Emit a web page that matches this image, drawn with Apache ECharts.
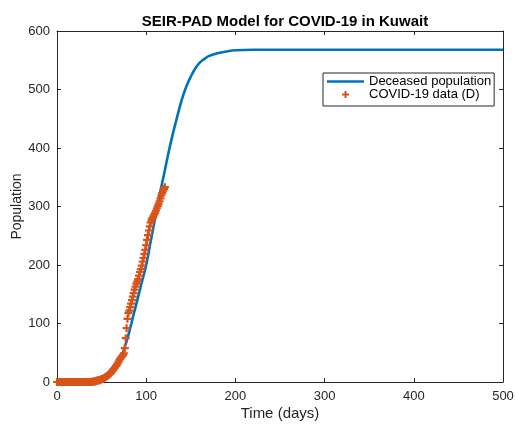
<!DOCTYPE html>
<html>
<head>
<meta charset="utf-8">
<script src="https://cdn.jsdelivr.net/npm/echarts@6/dist/echarts.min.js"></script>
<style>
html,body{margin:0;padding:0;background:#fff;}
#chart{width:516px;height:427px;}
</style>
</head>
<body>
<div id="chart"></div>
<script>
// Model curve (Deceased population)
const modelDays = [0, 20, 40, 50, 55, 60, 65, 70, 75, 80, 85, 90, 95, 100, 105, 110, 115, 120, 125, 130, 135, 140, 145, 150, 155, 160, 165, 170, 180, 190, 200, 220, 250, 300, 400, 500];
const modelVals = [0, 0, 1, 3, 6, 12, 22, 35, 55, 80, 110, 140, 170, 200, 240, 280, 320, 355, 392, 425, 455, 483, 505, 522, 536, 546, 552, 557, 562, 565, 567, 568, 568, 568, 568, 568];

// Observed daily deaths (COVID-19 data (D)), day 0 .. 121
const dataVals = [
  0,0,0,0,0,0,0,0,0,0,
  0,0,0,0,0,0,0,0,0,0,
  0,0,0,0,0,0,0,0,0,0,
  0,0,0,0,0,0,0,0,0,0,
  1,1,1,1,2,2,3,3,3,4,
  5,5,6,7,8,9,10,11,12,14,
  15,17,19,21,23,25,27,29,32,35,
  38,40,42,44,46,49,58,75,92,108,
  118,122,128,134,140,146,152,158,163,168,
  172,176,182,188,193,199,206,212,219,226,
  234,243,251,259,266,273,277,280,283,286,
  289,293,297,301,305,309,314,319,323,327,
  330,333
];

const xTicks = [0, 100, 200, 300, 400, 500];
const yTicks = [0, 100, 200, 300, 400, 500, 600];

const titleText = 'SEIR-PAD Model for COVID-19 in Kuwait';
const xLabel = 'Time (days)';
const yLabel = 'Population';
const seriesNames = ['Deceased population', 'COVID-19 data (D)'];

const modelData = modelDays.map((d, i) => [d, modelVals[i]]);
const obsData = dataVals.map((v, i) => [i, v]);

const plusPath = 'path://M-1.1,-4 H1.1 V-1.1 H4 V1.1 H1.1 V4 H-1.1 V1.1 H-4 V-1.1 H-1.1 Z';
const legendPlus = 'path://M-1,-3.5 H1 V-1 H3.5 V1 H1 V3.5 H-1 V1 H-3.5 V-1 H-1 Z';
const legendLine = 'path://M0,-1.3 H40 V1.3 H0 Z';
const axisColor = '#262626';
const font = 'Liberation Sans, Arial, Helvetica, sans-serif';

const chart = echarts.init(document.getElementById('chart'), null, {renderer: 'canvas'});
chart.setOption({
  animation: false,
  backgroundColor: '#fff',
  title: {
    text: titleText,
    left: 280, textAlign: 'center',
    top: 9,
    textStyle: {fontFamily: font, fontSize: 15, fontWeight: 'bold', color: '#000'}
  },
  grid: {left: 57, right: 13, top: 31, bottom: 45, containLabel: false, outerBoundsMode: 'none'},
  legend: {
    orient: 'vertical',
    left: 323, top: 73,
    padding: [2, 3, 5, 4],
    itemGap: 0,
    itemWidth: 37,
    itemHeight: 7,
    borderColor: axisColor,
    borderWidth: 1,
    backgroundColor: '#fff',
    textStyle: {fontFamily: font, fontSize: 13, color: '#000', lineHeight: 12.3},
    data: [
      {name: seriesNames[0], icon: legendLine},
      {name: seriesNames[1], icon: legendPlus}
    ]
  },
  xAxis: [
    {
      type: 'value', position: 'bottom', min: 0, max: 500, interval: 100,
      name: xLabel, nameLocation: 'middle', nameGap: 24, nameMoveOverlap: false,
      nameTextStyle: {fontFamily: font, fontSize: 15, color: axisColor},
      axisLine: {show: true, onZero: false, lineStyle: {color: axisColor, width: 1}},
      axisTick: {show: true, inside: true, length: 4, lineStyle: {color: axisColor}},
      axisLabel: {fontFamily: font, fontSize: 13, color: axisColor, margin: 8,
        formatter: v => xTicks.includes(v) ? String(v) : ''},
      splitLine: {show: false}
    },
    {
      type: 'value', position: 'top', min: 0, max: 500, interval: 100,
      axisLine: {show: true, onZero: false, lineStyle: {color: axisColor, width: 1}},
      axisTick: {show: true, inside: true, length: 4, lineStyle: {color: axisColor}},
      axisLabel: {show: false},
      splitLine: {show: false}
    }
  ],
  yAxis: [
    {
      type: 'value', position: 'left', min: 0, max: 600, interval: 100,
      name: yLabel, nameLocation: 'middle', nameGap: 33, nameRotate: 90, nameMoveOverlap: false,
      nameTextStyle: {fontFamily: font, fontSize: 14, color: axisColor},
      axisLine: {show: true, onZero: false, lineStyle: {color: axisColor, width: 1}},
      axisTick: {show: true, inside: true, length: 4, lineStyle: {color: axisColor}},
      axisLabel: {fontFamily: font, fontSize: 13, color: axisColor, margin: 7,
        formatter: v => yTicks.includes(v) ? String(v) : ''},
      splitLine: {show: false}
    },
    {
      type: 'value', position: 'right', min: 0, max: 600, interval: 100,
      axisLine: {show: true, onZero: false, lineStyle: {color: axisColor, width: 1}},
      axisTick: {show: true, inside: true, length: 4, lineStyle: {color: axisColor}},
      axisLabel: {show: false},
      splitLine: {show: false}
    }
  ],
  series: [
    {
      name: seriesNames[0],
      type: 'line',
      xAxisIndex: 0, yAxisIndex: 0,
      data: modelData,
      smooth: 0.4,
      symbol: 'none',
      lineStyle: {color: '#0072BD', width: 2.6},
      itemStyle: {color: '#0072BD'},
      z: 2
    },
    {
      name: seriesNames[1],
      type: 'scatter',
      xAxisIndex: 0, yAxisIndex: 0,
      data: obsData,
      symbol: plusPath,
      symbolSize: 8,
      itemStyle: {color: '#D95319', opacity: 1},
      z: 3
    }
  ]
});
</script>
</body>
</html>
